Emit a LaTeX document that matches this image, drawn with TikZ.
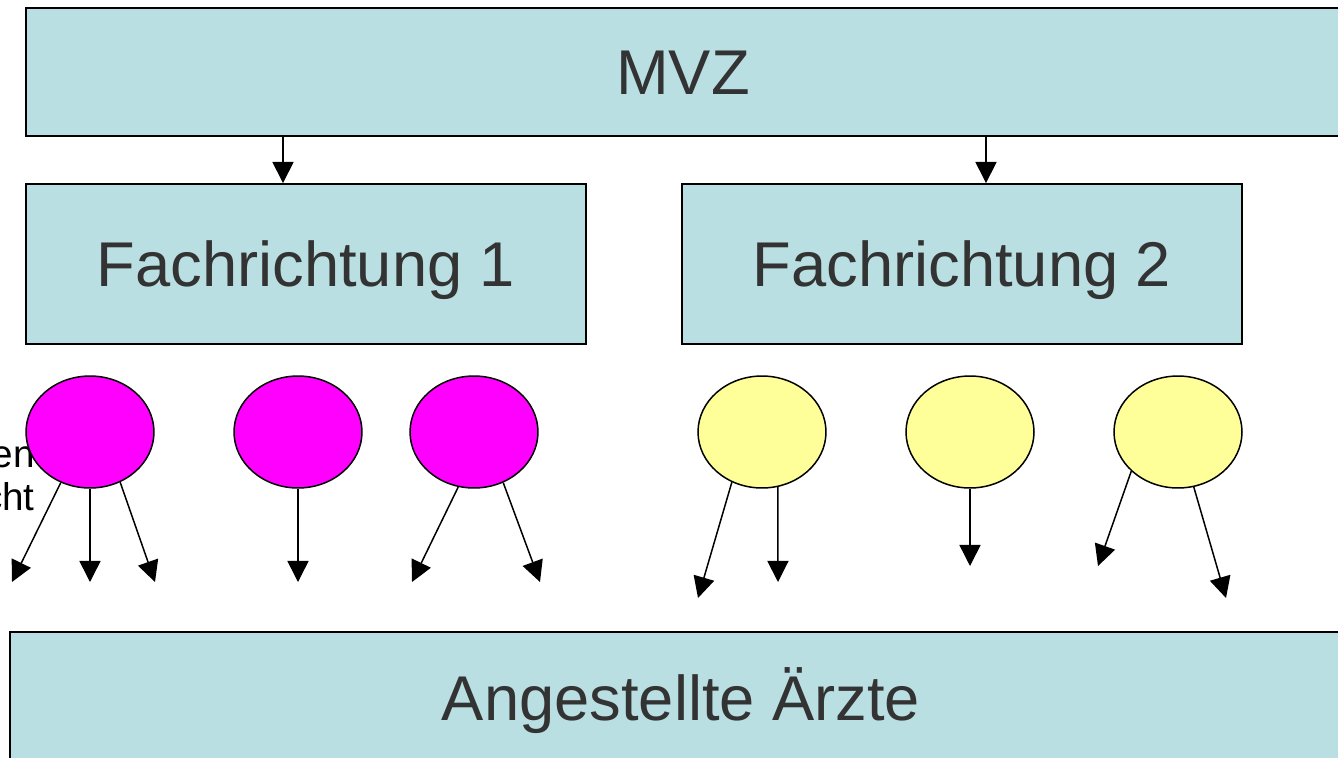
\documentclass[tikz,border=0pt]{standalone}
\usepackage{fontspec}
\setmainfont{Liberation Sans}
\usetikzlibrary{shapes.geometric,arrows.meta}
\definecolor{boxblue}{HTML}{B9DFE3}
\definecolor{pinkfill}{HTML}{FF00FF}
\definecolor{yellowfill}{HTML}{FFFF99}
\definecolor{textgrey}{HTML}{333333}
\tikzset{
  bigbox/.style={draw=black, line width=1.1pt, fill=boxblue, inner sep=0pt, text=textgrey,
    text height=26pt, text depth=0pt, font=\fontsize{36}{42}\selectfont},
  doc/.style={ellipse, draw=black, line width=0.85pt, minimum width=2.56cm, minimum height=2.24cm, inner sep=0pt},
  arr/.style={-{Triangle[width=12pt,length=12pt]}, line width=0.85pt},
  side/.style={inner sep=0pt, anchor=base east, font=\fontsize{22}{24}\selectfont},
}
\begin{document}
\begin{tikzpicture}[x=0.02cm, y=-0.02cm]
    \useasboundingbox (0,0) rectangle (1338,757);
    \clip (0,0) rectangle (1338,757);
    % boxes
    \node[bigbox, minimum width=26.28cm, minimum height=2.56cm] (mvz) at (683,72) {MVZ};
    \node[bigbox, minimum width=11.2cm, minimum height=3.2cm] (f1) at (306,264) {Fachrichtung 1};
    \node[bigbox, minimum width=11.2cm, minimum height=3.2cm] (f2) at (962,264) {Fachrichtung 2};
    \node[bigbox, minimum width=26.84cm, minimum height=2.64cm] (aerzte) at (681,698) {Angestellte Ärzte};
    \draw[arr] (mvz.south -| 283,0) -- (f1.north -| 283,0);
    \draw[arr] (mvz.south -| 986,0) -- (f2.north -| 986,0);
    % text behind the first circle
    \node[side] (sidea) at (35,467) {en};
    \node[side] (sideb) at (35,510) {cht};
    % doctors
    \node[doc, fill=pinkfill] (m1) at (90,432) {};
    \node[doc, fill=pinkfill] (m2) at (298,432) {};
    \node[doc, fill=pinkfill] (m3) at (474,432) {};
    \node[doc, fill=yellowfill] (y1) at (762,432) {};
    \node[doc, fill=yellowfill] (y2) at (970,432) {};
    \node[doc, fill=yellowfill] (y3) at (1178,432) {};
    % arrow ends
    \coordinate (e1) at (12,582);
    \coordinate (e2) at (90,582);
    \coordinate (e3) at (155,582);
    \coordinate (e4) at (298,582);
    \coordinate (e5) at (412,582);
    \coordinate (e6) at (540,582);
    \coordinate (e7) at (698,598);
    \coordinate (e8) at (778,582);
    \coordinate (e9) at (970,566);
    \coordinate (e10) at (1098,566);
    \coordinate (e11) at (1226,598);
    \draw[arr] (m1.-120) -- (e1);
    \draw[arr] (m1.south) -- (e2);
    \draw[arr] (m1.-59) -- (e3);
    \draw[arr] (m2.south) -- (e4);
    \draw[arr] (m3.-106) -- (e5);
    \draw[arr] (m3.-60) -- (e6);
    \draw[arr] (y1.-121) -- (e7);
    \draw[arr] (y1.-74) -- (e8);
    \draw[arr] (y2.south) -- (e9);
    \draw[arr] (y3.-140) -- (e10);
    \draw[arr] (y3.-74) -- (e11);
\end{tikzpicture}
\end{document}
